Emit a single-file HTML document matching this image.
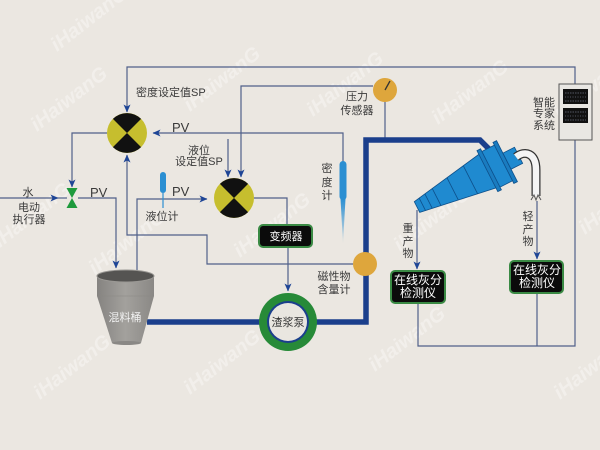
<!DOCTYPE html>
<html><head><meta charset="utf-8"><style>
html,body{margin:0;padding:0;background:#ebe7e1;}
svg{display:block;}
text{font-family:"Liberation Sans","Noto Sans CJK SC",sans-serif;}
</style></head><body>
<svg width="600" height="450" viewBox="0 0 600 450" xmlns="http://www.w3.org/2000/svg">
<defs>
<marker id="a" viewBox="0 0 8 8" refX="7.5" refY="4" markerWidth="8" markerHeight="8" markerUnits="userSpaceOnUse" orient="auto">
<path d="M0,0.5 L8,4 L0,7.5 L2,4 z" fill="#1e4596"/></marker>
<linearGradient id="tank" x1="0" x2="1" y1="0" y2="0">
<stop offset="0" stop-color="#858380"/><stop offset="0.5" stop-color="#a3a19d"/><stop offset="1" stop-color="#8a8885"/></linearGradient>
<linearGradient id="needle" x1="0" x2="0" y1="0" y2="1">
<stop offset="0" stop-color="#2b8fd2"/><stop offset="1" stop-color="#2b8fd2" stop-opacity="0.1"/></linearGradient>
</defs>
<rect width="600" height="450" fill="#ebe7e1"/>

<!-- watermarks -->
<g fill="#ffffff" opacity="0.35" font-size="20" font-weight="bold" font-style="italic">
<text transform="translate(37,132) rotate(-38)">iHaiwanG</text>
<text transform="translate(190,112) rotate(-38)">iHaiwanG</text>
<text transform="translate(313,117) rotate(-38)">iHaiwanG</text>
<text transform="translate(438,125) rotate(-38)">iHaiwanG</text>
<text transform="translate(560,120) rotate(-38)">iHaiwanG</text>
<text transform="translate(0,248) rotate(-38)">iHaiwanG</text>
<text transform="translate(95,275) rotate(-38)">iHaiwanG</text>
<text transform="translate(240,258) rotate(-38)">iHaiwanG</text>
<text transform="translate(400,252) rotate(-38)">iHaiwanG</text>
<text transform="translate(585,235) rotate(-38)">iHaiwanG</text>
<text transform="translate(40,400) rotate(-38)">iHaiwanG</text>
<text transform="translate(190,395) rotate(-38)">iHaiwanG</text>
<text transform="translate(375,372) rotate(-38)">iHaiwanG</text>
<text transform="translate(560,400) rotate(-38)">iHaiwanG</text>
<text transform="translate(57,52) rotate(-38)">iHaiwanG</text>
</g>

<!-- thin control lines -->
<g stroke="#50608a" stroke-width="1.2" fill="none">
<path d="M575,84 L575,67 L127,67 L127,112" marker-end="url(#a)"/>
<path d="M373,86 L241,86 L241,177" marker-end="url(#a)"/>
<path d="M228,139 L228,177" marker-end="url(#a)"/>
<path d="M343,162 L343,133 L153,133" marker-end="url(#a)"/>
<path d="M107,133 L72,133 L72,187" marker-end="url(#a)"/>
<path d="M0,198 L58,198" marker-end="url(#a)"/>
<path d="M58,198 L67,198"/>
<path d="M78,198 L116,198 L116,268" marker-end="url(#a)"/>
<path d="M137,275 L137,199 L207,199" marker-end="url(#a)"/>
<path d="M353,264 L207,264 L207,235 L127,235 L127,155" marker-end="url(#a)"/>
<path d="M254,198 L287,198 L287,225"/>
<path d="M288,247 L288,291" marker-end="url(#a)"/>
<path d="M385,102 L385,138"/>
<path d="M417,210 L417,269" marker-end="url(#a)"/>
<path d="M537,201 L537,259" marker-end="url(#a)"/>
<path d="M418,303 L418,346 L575,346 L575,140"/>
<path d="M537,293 L537,346"/>
</g>

<!-- thick slurry pipe -->
<path d="M147,322 L366,322 L366,140 L480,140 L492,152" stroke="#1b3f8c" stroke-width="5.5" fill="none" stroke-linejoin="miter"/>

<!-- controllers -->
<circle cx="127" cy="133" r="20" fill="#c6be2e"/>
<path d="M127,133 L112.9,118.9 A20,20 0 0 1 141.1,118.9 Z" fill="#111"/>
<path d="M127,133 L141.1,147.1 A20,20 0 0 1 112.9,147.1 Z" fill="#111"/>
<circle cx="234" cy="198" r="20" fill="#c6be2e"/>
<path d="M234,198 L219.9,183.9 A20,20 0 0 1 248.1,183.9 Z" fill="#111"/>
<path d="M234,198 L248.1,212.1 A20,20 0 0 1 219.9,212.1 Z" fill="#111"/>

<!-- valve -->
<path d="M66.5,188 L77.5,188 L72,198 Z M66.5,208 L77.5,208 L72,198 Z" fill="#1e9a3c"/>

<!-- level meter -->
<rect x="160" y="172" width="6" height="21" rx="3" fill="#2b8fd2"/>
<line x1="163" y1="193" x2="163" y2="208" stroke="#2b8fd2" stroke-width="1.2"/>

<!-- density meter -->
<rect x="339.5" y="161" width="7" height="39" rx="3.5" fill="#2b8fd2"/>
<path d="M340.5,199 L345.5,199 L343,243 Z" fill="url(#needle)"/>

<!-- pressure sensor -->
<circle cx="385" cy="90" r="12" fill="#dea63c"/>
<line x1="385" y1="90" x2="390" y2="81" stroke="#333" stroke-width="1.3"/>

<!-- magnetic meter -->
<circle cx="365" cy="264" r="12" fill="#dea63c"/>

<!-- tank -->
<path d="M97,276 L97,296 L112,343 L141,343 L154,296 L154,276 Z" fill="url(#tank)"/>
<ellipse cx="126.5" cy="343" rx="14.5" ry="2" fill="#8a8885"/>
<line x1="97" y1="296" x2="154" y2="296" stroke="#8a8884" stroke-width="0.6"/>
<ellipse cx="125.5" cy="276" rx="28.5" ry="6" fill="#555452" stroke="#9a9894" stroke-width="1"/>

<!-- pump -->
<circle cx="288" cy="322" r="29" fill="#278a38"/>
<circle cx="288" cy="322" r="21" fill="#1b3f8c"/>
<circle cx="288" cy="322" r="19" fill="#e9e6e0"/>

<!-- VFD -->
<rect x="259" y="225" width="53" height="22" rx="4" fill="#0b0b0b" stroke="#3a8a44" stroke-width="2"/>

<!-- analyzers -->
<rect x="391" y="271" width="54" height="32" rx="4" fill="#0b0b0b" stroke="#3a8a44" stroke-width="2"/>
<rect x="510" y="261" width="53" height="32" rx="4" fill="#0b0b0b" stroke="#3a8a44" stroke-width="2"/>

<!-- expert system box -->
<rect x="559" y="84" width="33" height="56" fill="#e9e7e3" stroke="#555" stroke-width="1"/>
<rect x="563" y="89" width="25" height="15" fill="#111"/>
<rect x="563" y="108" width="25" height="15" fill="#111"/>
<g stroke="#6a7080" stroke-width="0.8">
<line x1="565" y1="93" x2="586" y2="93" stroke-dasharray="1.5,1"/>
<line x1="565" y1="97" x2="586" y2="97" stroke-dasharray="1,1.5"/>
<line x1="565" y1="101" x2="586" y2="101" stroke-dasharray="1.5,1"/>
<line x1="565" y1="112" x2="586" y2="112" stroke-dasharray="1.5,1"/>
<line x1="565" y1="116" x2="586" y2="116" stroke-dasharray="1,1.5"/>
<line x1="565" y1="120" x2="586" y2="120" stroke-dasharray="1.5,1"/>
</g>

<!-- cyclone -->
<g transform="translate(417,207) rotate(-27)">
<path d="M0,-6 L80,-19 L80,19 L0,6 Z" fill="#1f8ad0" stroke="#0d4f8a" stroke-width="0.8"/>
<g stroke="#0d4f8a" stroke-width="0.8">
<line x1="6" y1="-7" x2="6" y2="7"/>
<line x1="13" y1="-8.1" x2="13" y2="8.1"/>
<line x1="22" y1="-9.6" x2="22" y2="9.6"/>
<line x1="40" y1="-12.5" x2="40" y2="12.5"/>
<line x1="60" y1="-15.8" x2="60" y2="15.8"/>
</g>
<rect x="80" y="-20" width="20" height="40" fill="#1f8ad0" stroke="#0d4f8a" stroke-width="0.8"/>
<rect x="79" y="-23" width="4" height="46" fill="#1a7cc0" stroke="#0d4f8a" stroke-width="0.8"/>
<rect x="97" y="-23" width="4" height="46" fill="#1a7cc0" stroke="#0d4f8a" stroke-width="0.8"/>
<rect x="101" y="-9" width="13" height="18" fill="#1f8ad0" stroke="#0d4f8a" stroke-width="0.8"/>
</g>
<!-- overflow bend -->
<path d="M516,157 C525,150 536,153 536,170 L536,196" stroke="#333" stroke-width="9" fill="none"/>
<path d="M516,157 C525,150 536,153 536,170 L536,196" stroke="#f4f4f4" stroke-width="6.5" fill="none"/>
<path d="M531,200 L534,195 L536,200 L538,195 L541,200" stroke="#555" stroke-width="1" fill="none"/>

<!-- labels -->
<g fill="#3a3a3a" font-size="11">
<text x="136" y="96">密度设定值SP</text>
<text x="199" y="154" text-anchor="middle">液位</text>
<text x="199" y="165" text-anchor="middle">设定值SP</text>
<text x="162" y="220" text-anchor="middle">液位计</text>
<text x="28" y="196" text-anchor="middle">水</text>
<text x="29" y="211" text-anchor="middle">电动</text>
<text x="29" y="223" text-anchor="middle">执行器</text>
<text x="357" y="100" text-anchor="middle">压力</text>
<text x="357" y="114" text-anchor="middle">传感器</text>
<text x="327" y="172" text-anchor="middle">密</text>
<text x="327" y="186" text-anchor="middle">度</text>
<text x="327" y="199" text-anchor="middle">计</text>
<text x="544" y="106" text-anchor="middle">智能</text>
<text x="544" y="117" text-anchor="middle">专家</text>
<text x="544" y="129" text-anchor="middle">系统</text>
<text x="334" y="280" text-anchor="middle">磁性物</text>
<text x="334" y="293" text-anchor="middle">含量计</text>
<text x="408" y="232" text-anchor="middle">重</text>
<text x="408" y="245" text-anchor="middle">产</text>
<text x="408" y="257" text-anchor="middle">物</text>
<text x="528" y="220" text-anchor="middle">轻</text>
<text x="528" y="233" text-anchor="middle">产</text>
<text x="528" y="245" text-anchor="middle">物</text>
</g>
<g fill="#3a3a3a" font-size="13">
<text x="172" y="132">PV</text>
<text x="172" y="196">PV</text>
<text x="90" y="197">PV</text>
</g>
<g fill="#ffffff" font-size="11" text-anchor="middle">
<text x="286" y="240">变频器</text>
<text x="418" y="284" font-size="12">在线灰分</text>
<text x="418" y="297" font-size="12">检测仪</text>
<text x="537" y="274" font-size="12">在线灰分</text>
<text x="537" y="287" font-size="12">检测仪</text>
<text x="125" y="321" fill="#f0f0f0">混料桶</text>
</g>
<text x="288" y="326" font-size="11" text-anchor="middle" fill="#333">渣浆泵</text>
</svg>
</body></html>
